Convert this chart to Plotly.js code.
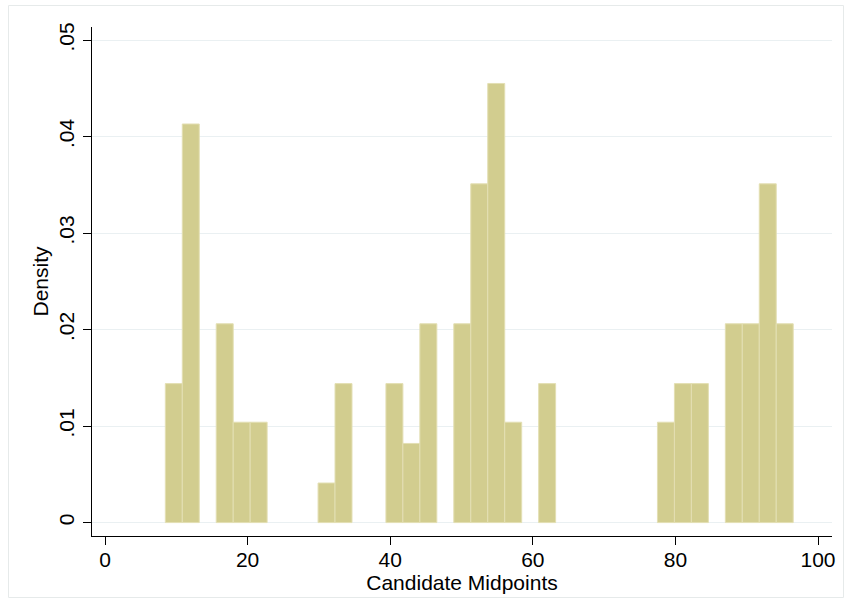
<!DOCTYPE html>
<html>
<head>
<meta charset="utf-8">
<script src="https://cdn.plot.ly/plotly-3.0.1.min.js"></script>
<style>
html,body{margin:0;padding:0;background:#fff;}
#chart{width:844px;height:600px;}
</style>
</head>
<body>
<div id="chart"></div>
<script>
// Bin midpoints (Candidate Midpoints) and densities
var binMidpoints = [9.65, 12.03, 16.79, 19.17, 21.55, 31.07, 33.45, 40.59, 42.97, 45.35,
                    50.11, 52.49, 54.87, 57.25, 62.01, 78.67, 81.05, 83.43, 88.19, 90.57, 92.95, 95.33];
var densities   = [0.0144, 0.0413, 0.0206, 0.0104, 0.0104, 0.0041, 0.0144, 0.0144, 0.0082, 0.0206,
                   0.0206, 0.0351, 0.0455, 0.0104, 0.0144, 0.0104, 0.0144, 0.0144, 0.0206, 0.0206, 0.0351, 0.0206];
var binWidth = 2.38;

var xTickVals = [0, 20, 40, 60, 80, 100];
var xTickText = ["0", "20", "40", "60", "80", "100"];
var yTickVals = [0, 0.01, 0.02, 0.03, 0.04, 0.05];
var yTickText = ["0", ".01", ".02", ".03", ".04", ".05"];

var font = {family: "Liberation Sans, Arial, Helvetica, sans-serif", size: 21, color: "#000"};

var trace = {
  type: "bar",
  x: binMidpoints,
  y: densities,
  width: binWidth,
  marker: {color: "#d2cd8f", line: {color: "#e3dfb3", width: 1}},
  hoverinfo: "x+y"
};

var layout = {
  width: 844, height: 600,
  margin: {l: 92, r: 12, t: 27, b: 64, pad: 0},
  paper_bgcolor: "#fff", plot_bgcolor: "#fff",
  showlegend: false,
  font: font,
  bargap: 0,
  xaxis: {
    range: [-1.823, 101.96],
    tickmode: "array", tickvals: xTickVals, ticktext: xTickText,
    ticks: "outside", ticklen: 8, tickwidth: 1, tickcolor: "#000",
    ticklabelstandoff: -3,
    showline: true, linecolor: "#000", linewidth: 1,
    showgrid: false, zeroline: false,
    tickfont: font,
    title: {text: "Candidate Midpoints", font: font, standoff: 0},
    automargin: false
  },
  yaxis: {
    range: [-0.00139, 0.05135],
    tickmode: "array", tickvals: yTickVals, ticktext: yTickText,
    tickangle: -90,
    ticks: "outside", ticklen: 8, tickwidth: 1, tickcolor: "#000",
    ticklabelstandoff: 1,
    showline: true, linecolor: "#000", linewidth: 1,
    showgrid: true, gridcolor: "#eaf0f2", gridwidth: 1,
    zeroline: false,
    tickfont: font,
    title: {text: "Density", font: font, standoff: 0},
    automargin: false
  },
  shapes: [{
    type: "rect", xref: "paper", yref: "paper",
    x0: -0.1128, x1: 1.0155, y0: -0.1208, y1: 1.0422,
    line: {color: "#e6eaea", width: 1}, fillcolor: "rgba(0,0,0,0)", layer: "below"
  }]
};

Plotly.newPlot("chart", [trace], layout, {displayModeBar: false, staticPlot: true});
</script>
</body>
</html>
